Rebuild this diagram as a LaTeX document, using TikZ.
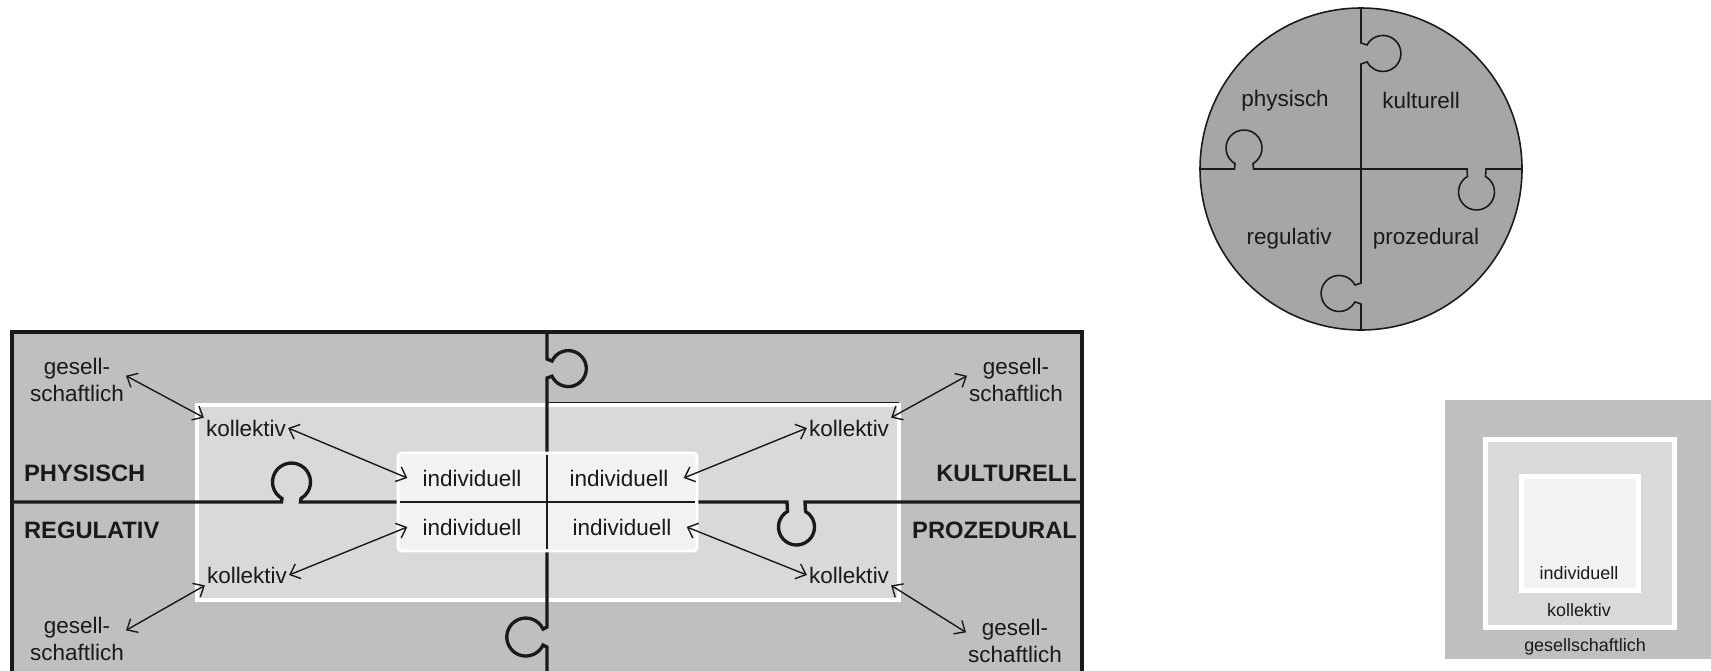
\documentclass[tikz,border=0pt]{standalone}
\usepackage{fontspec}
\setmainfont{Liberation Sans}
\usetikzlibrary{arrows.meta}

\definecolor{bggray}{HTML}{BFBFBF}
\definecolor{midgray}{HTML}{D9D9D9}
\definecolor{indfill}{HTML}{F2F2F2}
\definecolor{circgray}{HTML}{A6A6A6}
\definecolor{ink}{HTML}{1A1A1A}

\begin{document}
\begin{tikzpicture}
[   x=0.02cm, y=0.02cm,
    lbl/.style={text=ink, inner sep=1pt, font=\fontsize{12.8}{15.5}\selectfont},
    gnode/.style={lbl, align=center},
    inode/.style={lbl, inner xsep=8.5pt},
    dimlbl/.style={lbl, font=\fontsize{13.5}{15.5}\selectfont\bfseries},
    legtext/.style={text=ink, inner sep=1pt, font=\fontsize{10.2}{12}\selectfont},
    puzzle/.style={draw=ink, line width=1.9pt},
    circline/.style={draw=ink, line width=0.9pt},
    arr/.style={{Straight Barb[length=5pt,width=9pt]}-{Straight Barb[length=5pt,width=9pt]}, draw=ink, line width=0.8pt},
]
\useasboundingbox (0,0) rectangle (1711,-670);
\clip (0,0) rectangle (1711,-670);

% big puzzle
\fill[bggray] (12,-332) rectangle (1082,-700);
\fill[midgray] (197,-405) rectangle (899,-600);
\draw[ink, line width=0.5pt] (195,-405) -- (195,-600);
\draw[ink, line width=0.5pt] (547,-402) -- (899,-402);
\draw[white, line width=2.4pt] (197,-405) rectangle (899,-600);

\draw[puzzle] (12,-502) -- (281.5,-502) -- (282,-498.5) arc[start angle=240, end angle=-60, radius=19]
  -- (300.5,-502) -- (787,-502) -- (787.5,-511.4) arc[start angle=120, end angle=420, radius=18]
  -- (805,-502) -- (1082,-502);
\draw[puzzle] (547,-332) -- (547,-359) -- (552,-361) arc[start angle=155, end angle=-155, radius=18]
  -- (547,-378) -- (547,-627) -- (543,-629) arc[start angle=25, end angle=335, radius=19]
  -- (547,-647) -- (547,-700);
\draw[puzzle, line width=2pt] (12,-700) -- (12,-332) -- (1082,-332) -- (1082,-700);

\filldraw[fill=indfill, draw=white, line width=1.6pt, rounded corners=2pt] (398,-453) rectangle (697,-551);
\draw[ink, line width=0.6pt] (400,-502) -- (695,-502) (547,-455) -- (547,-549);

\node[inode] (indTL) at (472,-478) {individuell};
\node[inode] (indTR) at (619,-478) {individuell};
\node[inode] (indBL) at (472,-527) {individuell};
\node[inode] (indBR) at (622,-527) {individuell};

\node[lbl] (kolTL) at (246,-428) {kollektiv};
\node[lbl] (kolTR) at (849,-428) {kollektiv};
\node[lbl] (kolBL) at (247,-575) {kollektiv};
\node[lbl] (kolBR) at (849,-575) {kollektiv};

\node[gnode] (gesTL) at (77,-380) {gesell-\\schaftlich};
\node[gnode] (gesTR) at (1016,-380) {gesell-\\schaftlich};
\node[gnode] (gesBL) at (77,-639) {gesell-\\schaftlich};
\node[gnode] (gesBR) at (1015,-641) {gesell-\\schaftlich};

\node[dimlbl, anchor=west] (phys) at (22,-473) {PHYSISCH};
\node[dimlbl, anchor=east] (kult) at (1079,-473) {KULTURELL};
\node[dimlbl, anchor=west] (regu) at (22,-530) {REGULATIV};
\node[dimlbl, anchor=east] (proz) at (1079,-530) {PROZEDURAL};

\draw[arr] (gesTL.5) -- (kolTL.north west);
\draw[arr] (kolTL.east) -- (indTL.west);
\draw[arr] (gesBL.10) -- (kolBL.south west);
\draw[arr] (kolBL.east) -- (indBL.west);
\draw[arr] (gesTR.175) -- (kolTR.north east);
\draw[arr] (kolTR.west) -- (indTR.east);
\draw[arr] (gesBR.170) -- (kolBR.south east);
\draw[arr] (kolBR.west) -- (indBR.east);

% circle puzzle
\filldraw[fill=circgray, draw=ink, line width=0.9pt] (1361,-169) circle[radius=161];
\draw[circline] (1200,-169) -- (1234.5,-169) -- (1235,-163.6) arc[start angle=240, end angle=-60, radius=18]
  -- (1253.5,-169) -- (1467,-169) -- (1467.5,-176.4) arc[start angle=120, end angle=420, radius=18]
  -- (1486,-169) -- (1522,-169);
\draw[circline] (1361,-8) -- (1361,-43) -- (1367,-45) arc[start angle=152, end angle=-152, radius=18]
  -- (1361,-64) -- (1361,-283) -- (1355,-285) arc[start angle=28, end angle=332, radius=18]
  -- (1361,-304) -- (1361,-330);

\node[lbl] (cphys) at (1285,-101) {physisch};
\node[lbl] (ckult) at (1421,-100) {kulturell};
\node[lbl] (cregu) at (1289,-239) {regulativ};
\node[lbl] (cproz) at (1426,-239) {prozedural};

% nested squares
\fill[bggray] (1445,-400) rectangle (1711,-659);
\filldraw[fill=midgray, draw=white, line width=2.8pt] (1485.5,-439.5) rectangle (1674.5,-627.5);
\filldraw[fill=indfill, draw=white, line width=2.6pt] (1521.4,-476.4) rectangle (1638.6,-590.6);
\node[legtext] (lind) at (1579,-573) {individuell};
\node[legtext] (lkol) at (1579,-610) {kollektiv};
\node[legtext] (lges) at (1585,-647) {gesellschaftlich};

\end{tikzpicture}
\end{document}
